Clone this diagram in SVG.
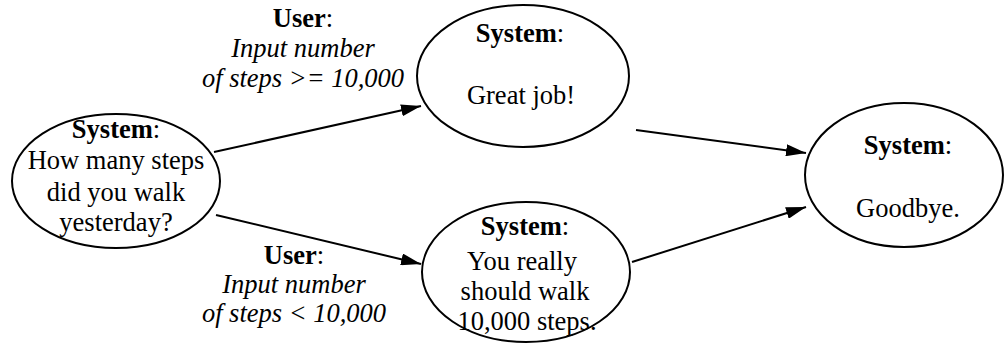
<svg xmlns="http://www.w3.org/2000/svg" width="1005" height="347" viewBox="0 0 1005 347">
<style>
  .node ellipse { fill: #fff; stroke: #000; stroke-width: 2; }
  text { font-family: "Liberation Serif", "Times New Roman", serif; font-size: 26.5px; fill: #000; text-anchor: middle; }
  .b { font-weight: bold; }
  .i { font-style: italic; }
  .edge { stroke: #000; stroke-width: 2; fill: none; marker-end: url(#arr); }
</style>
<defs>
  <marker id="arr" viewBox="0 0 20 12" refX="20" refY="6" markerWidth="20" markerHeight="12" markerUnits="userSpaceOnUse" orient="auto">
    <path d="M0,0 L20,6 L0,12 z" fill="#000"/>
  </marker>
</defs>
<g id="connectors">
  <line class="edge" x1="214" y1="152" x2="421" y2="106"/>
  <line class="edge" x1="216" y1="215" x2="421" y2="264"/>
  <line class="edge" x1="636" y1="130" x2="806" y2="153"/>
  <line class="edge" x1="632" y1="262" x2="806" y2="207"/>
</g>
<g id="label-top">
  <text x="303" y="27"><tspan class="b">User</tspan>:</text>
  <text x="303" y="57" class="i">Input number</text>
  <text x="303" y="87" class="i">of steps &gt;= 10,000</text>
</g>
<g id="label-bottom">
  <text x="294" y="264"><tspan class="b">User</tspan>:</text>
  <text x="294" y="293" class="i">Input number</text>
  <text x="294" y="322" class="i">of steps &lt; 10,000</text>
</g>
<g id="node-start" class="node">
  <ellipse cx="116" cy="181" rx="104" ry="67"/>
  <text x="116" y="138"><tspan class="b">System</tspan>:</text>
  <text x="116" y="169">How many steps</text>
  <text x="116" y="201">did you walk</text>
  <text x="116" y="231">yesterday?</text>
</g>
<g id="node-great" class="node">
  <ellipse cx="523" cy="76" rx="106" ry="71"/>
  <text x="520" y="42"><tspan class="b">System</tspan>:</text>
  <text x="521" y="104">Great job!</text>
</g>
<g id="node-walk" class="node">
  <ellipse cx="526" cy="272" rx="104" ry="70"/>
  <text x="525" y="235"><tspan class="b">System</tspan>:</text>
  <text x="522" y="270">You really</text>
  <text x="525" y="300">should walk</text>
  <text x="527" y="330">10,000 steps.</text>
</g>
<g id="node-bye" class="node">
  <ellipse cx="904" cy="175" rx="99" ry="72"/>
  <text x="908" y="154"><tspan class="b">System</tspan>:</text>
  <text x="908" y="217">Goodbye.</text>
</g>
</svg>
